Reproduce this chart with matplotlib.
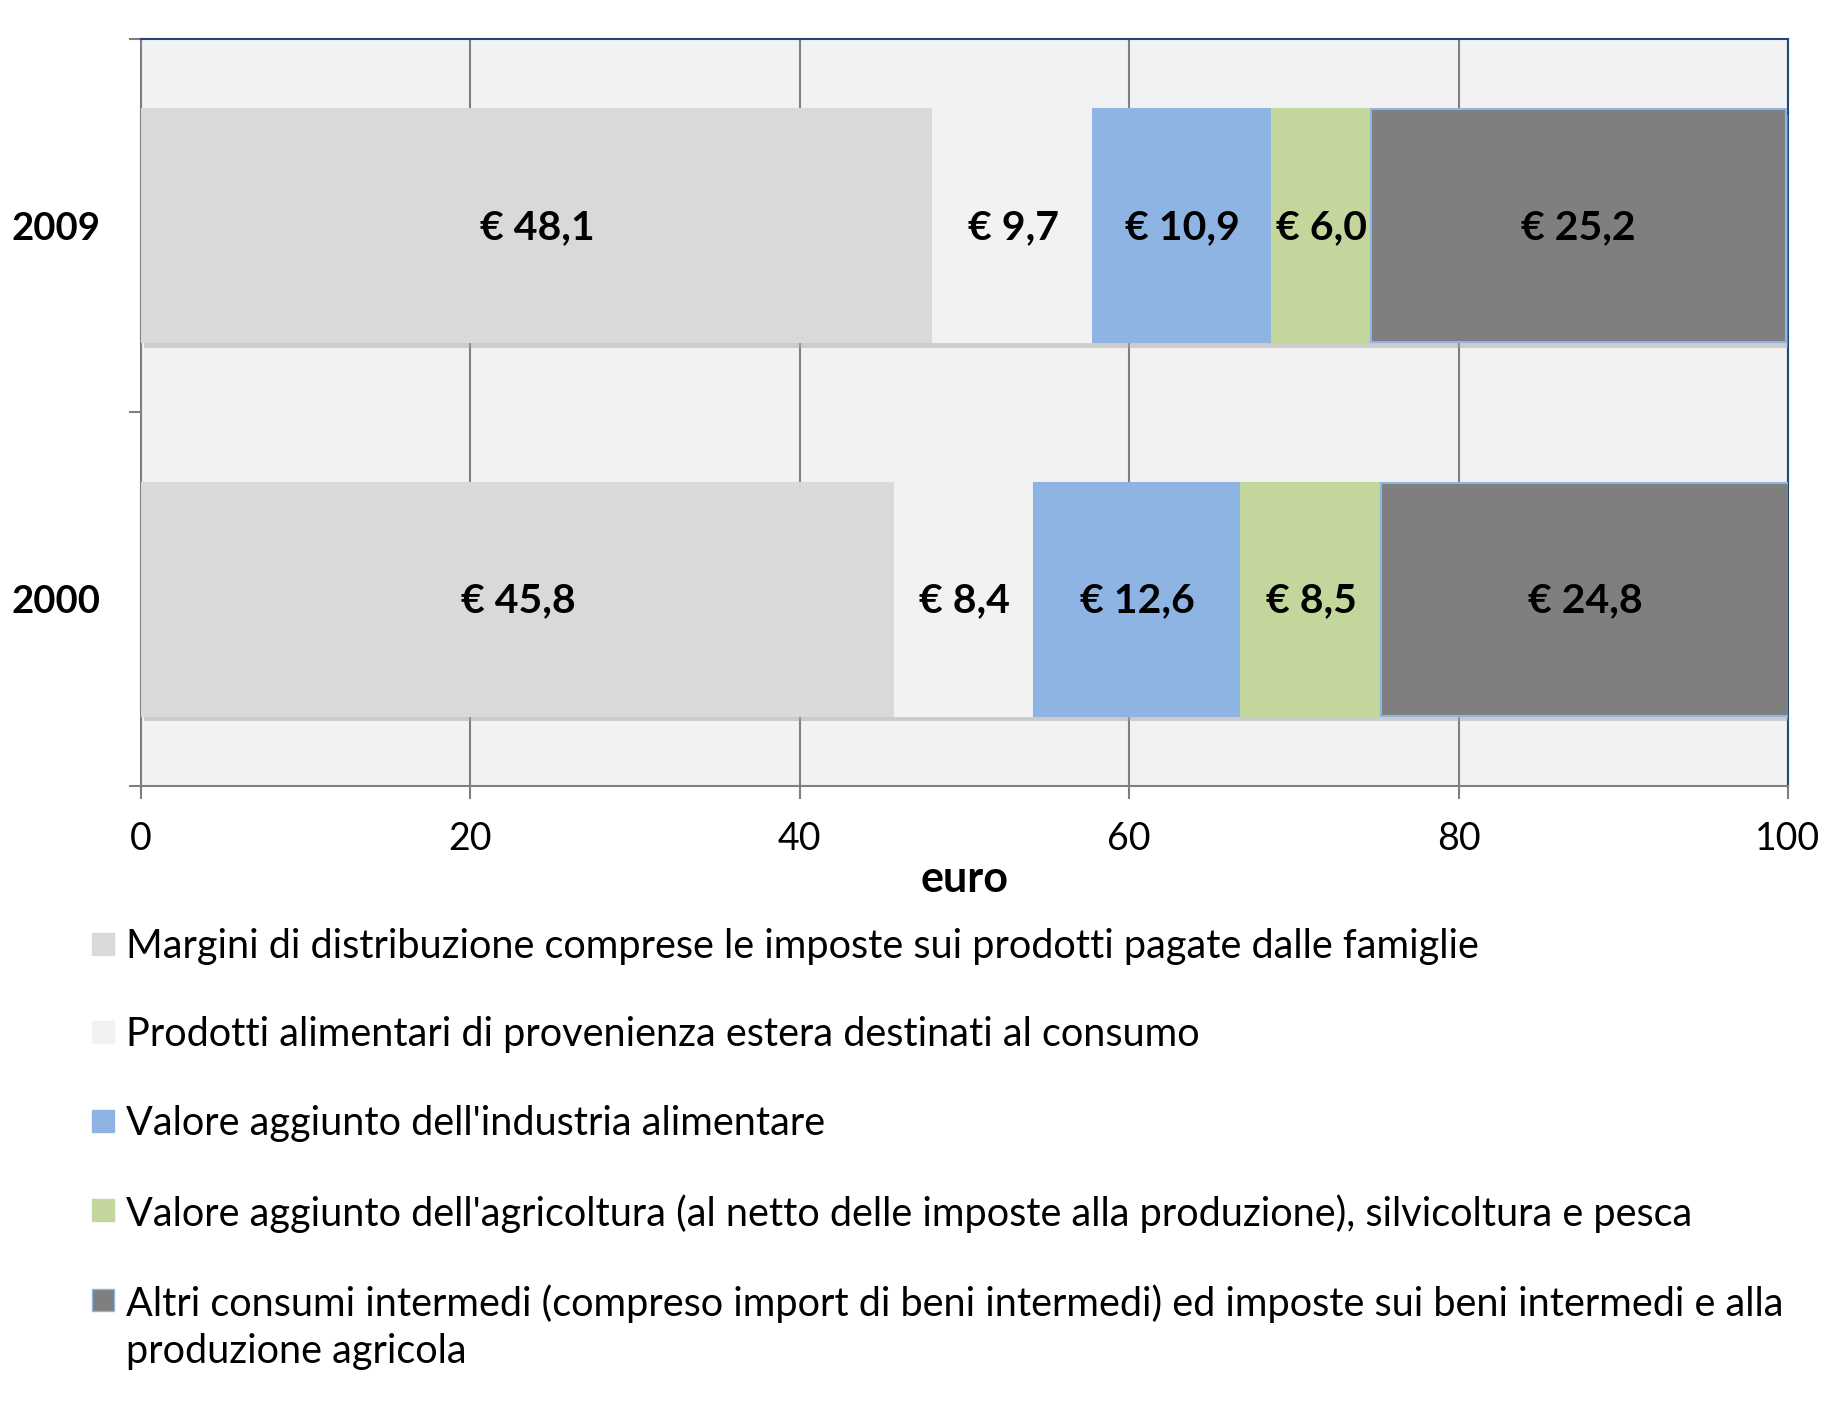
import matplotlib
matplotlib.use("Agg")
import matplotlib.pyplot as plt
from matplotlib.patches import Rectangle
import matplotlib.patheffects as pe
import numpy as np

plt.rcParams['font.family'] = ['Lato', 'DejaVu Sans']

years = ["2000", "2009"]
series_names = [
    "Margini di distribuzione comprese le imposte sui prodotti pagate dalle famiglie",
    "Prodotti alimentari di provenienza estera destinati al consumo",
    "Valore aggiunto dell'industria alimentare",
    "Valore aggiunto dell'agricoltura (al netto delle imposte alla produzione), silvicoltura e pesca",
    "Altri consumi intermedi (compreso import di beni intermedi) ed imposte sui beni intermedi e alla\nproduzione agricola",
]
margini = [45.8, 48.1]
prodotti_esteri = [8.4, 9.7]
industria = [12.6, 10.9]
agricoltura = [8.5, 6.0]
altri = [24.8, 25.2]
series_values = [margini, prodotti_esteri, industria, agricoltura, altri]
colors = ["#D9D9D9", "#F2F2F2", "#8EB4E3", "#C3D69B", "#7F7F7F"]
edges = ["#D9D9D9", "#F2F2F2", "#8EB4E3", "#C3D69B", "#8EB4E3"]
xticks = [0, 20, 40, 60, 80, 100]

fig = plt.figure(figsize=(18.48, 14.10), dpi=100)
ax = fig.add_axes([0.0763, 0.4426, 0.8912, 0.5297])
ax.set_facecolor("#F2F2F2")

ypos = np.arange(len(years))
left = np.zeros(len(years))
shadow = [pe.SimplePatchShadow(offset=(2, -4), shadow_rgbFace="#a8a8a8", alpha=0.5), pe.Normal()]
for vals, c, ec in zip(series_values, colors, edges):
    bars = ax.barh(ypos, vals, left=left, height=0.625, color=c, edgecolor=ec,
                   linewidth=1.5, zorder=3)
    for b in bars:
        b.set_path_effects(shadow)
    for y, v, l in zip(ypos, vals, left):
        ax.text(l + v / 2, y - 0.005, "€ " + f"{v:.1f}".replace(".", ","), ha="center", va="center",
                fontsize=29.5, fontweight="bold", color="black", zorder=4)
    left = left + np.array(vals)

ax.set_xlim(0, 100)
ax.set_ylim(-0.5, 1.5)
ax.set_xticks(xticks)
ax.set_xticklabels([str(t) for t in xticks], fontsize=27)
ax.set_yticks([-0.5, 0.5, 1.5])
ax.set_yticklabels([])
ax.set_yticks(ypos, minor=True)
ax.set_yticklabels(years, minor=True, fontsize=27.5, fontweight="bold")
ax.tick_params(axis="y", which="minor", length=0, pad=29)
ax.tick_params(axis="y", which="major", length=9, width=1.5, color="#7F7F7F", direction="out")
ax.tick_params(axis="x", length=9, width=1.5, color="#7F7F7F", direction="out", pad=16)
ax.xaxis.grid(True, color="#7F7F7F", linewidth=1.5, zorder=1)
ax.set_axisbelow(True)
ax.set_xlabel("euro", fontsize=31, fontweight="bold", labelpad=2)

for s in ["left", "bottom"]:
    ax.spines[s].set_color("#7F7F7F")
    ax.spines[s].set_linewidth(1.5)
for s in ["top", "right"]:
    ax.spines[s].set_color("#1F497D")
    ax.spines[s].set_linewidth(1.5)

# legend
W, H = 1848.0, 1410.0
rows_y = [944, 1032, 1121, 1210, 1300]
for name, c, ec, yy in zip(series_names, colors, edges, rows_y):
    fig.patches.append(Rectangle((92 / W, 1 - (yy + 11) / H), 22 / W, 22 / H,
                                 transform=fig.transFigure, facecolor=c,
                                 edgecolor=ec, linewidth=1))
    fig.text(126 / W, 1 - (yy - 16) / H, name, fontsize=28.5, va="top", ha="left",
             linespacing=1.36)

fig.savefig("out.png", dpi=100)
